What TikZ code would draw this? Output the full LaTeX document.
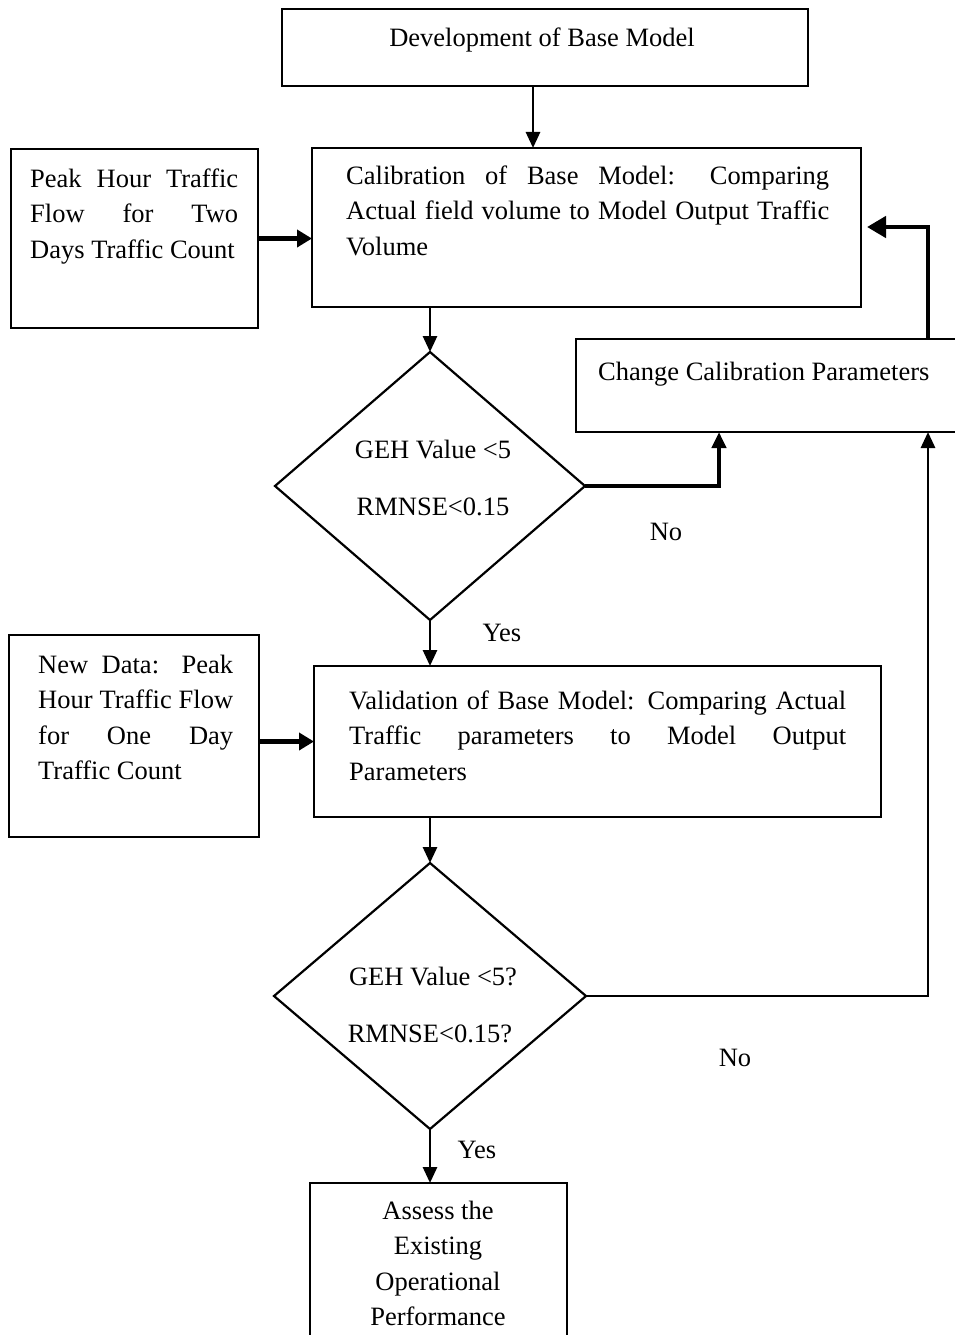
\documentclass[tikz,border=0pt]{standalone}
\usepackage{fontspec}
\setmainfont{Liberation Serif}
\usetikzlibrary{shapes.geometric,arrows.meta}
\newcommand{\jline}[2]{\makebox[#1][s]{#2}}
\begin{document}
\begin{tikzpicture}[x=1pt,y=-1pt,
  every node/.style={font=\fontsize{26.5pt}{35.5pt}\selectfont},
  box/.style={draw,line width=2.2pt,inner sep=0pt,outer sep=0pt,anchor=north west},
  dia/.style={draw,diamond,line width=2.2pt,inner sep=0pt,outer sep=0pt},
  txt/.style={anchor=base west,inner sep=0pt},
  ctxt/.style={anchor=base,inner sep=0pt},
  thinarr/.style={line width=2.8pt,-{Triangle[length=16pt,width=14pt]}},
  noarr/.style={line width=4.5pt,-{Triangle[length=16pt,width=14pt]}},
  peakarr/.style={line width=4.5pt,-{Triangle[length=15pt,width=17pt]}},
  fbarr/.style={line width=4.5pt,-{Triangle[length=19pt,width=21pt]}}
]
\useasboundingbox (0,0) rectangle (955,1335);
\clip (0,0) rectangle (955,1335);

% boxes
\node[box,minimum width=526pt,minimum height=77pt] (dev) at (282,9) {};
\node[box,minimum width=549pt,minimum height=159pt] (cal) at (312,148) {};
\node[box,minimum width=247pt,minimum height=179pt] (peak) at (11,149) {};
\node[box,minimum width=400pt,minimum height=93pt] (chg) at (576,339) {};
\node[box,minimum width=250pt,minimum height=202pt] (newd) at (9,635) {};
\node[box,minimum width=567pt,minimum height=151pt] (val) at (314,666) {};
\node[box,minimum width=257pt,minimum height=175pt] (assess) at (310,1183) {};
\node[dia,minimum width=310pt,minimum height=268pt] (d1) at (430,486) {};
\node[dia,minimum width=312pt,minimum height=266pt] (d2) at (430,996) {};

% texts
\node[ctxt] (devT) at (542,47) {Development of Base Model};
\node[txt] (calT) at (346,184) {\vtop{%
  \hbox{\jline{483pt}{Calibration of Base Model: Comparing}}%
  \hbox{\jline{483pt}{Actual field volume to Model Output Traffic}}%
  \hbox{Volume}}};
\node[txt] (peakT) at (30,187) {\vtop{%
  \hbox{\jline{208pt}{Peak Hour Traffic}}%
  \hbox{\jline{208pt}{Flow for Two}}%
  \hbox{Days Traffic Count}}};
\node[txt] (chgT) at (598,380) {Change Calibration Parameters};
\node[ctxt] (d1a) at (433,458) {GEH Value <5};
\node[ctxt] (d1b) at (433,515) {RMNSE<0.15};
\node[txt] (newdT) at (38,673) {\vtop{%
  \hbox{\jline{195pt}{New Data: Peak}}%
  \hbox{\jline{195pt}{Hour Traffic Flow}}%
  \hbox{\jline{195pt}{for One Day}}%
  \hbox{Traffic Count}}};
\node[txt] (valT) at (349,709) {\vtop{%
  \hbox{\jline{497pt}{Validation of Base Model: Comparing Actual}}%
  \hbox{\jline{497pt}{Traffic parameters to Model Output}}%
  \hbox{Parameters}}};
\node[ctxt] (d2a) at (433,985) {GEH Value <5?};
\node[ctxt] (d2b) at (430,1042) {RMNSE<0.15?};
\node[ctxt] (assessT) at (438,1219) {\vtop{%
  \hbox to 0pt{\hss Assess the\hss}%
  \hbox to 0pt{\hss Existing\hss}%
  \hbox to 0pt{\hss Operational\hss}%
  \hbox to 0pt{\hss Performance\hss}}};

% labels
\node[ctxt] (no1) at (666,540) {No};
\node[ctxt] (yes1) at (502,641) {Yes};
\node[ctxt] (no2) at (735,1066) {No};
\node[ctxt] (yes2) at (477,1158) {Yes};

% helper coordinates
\coordinate (x533) at (533,0);
\coordinate (x719) at (719,0);
\coordinate (x928) at (928,0);
\coordinate (y227) at (0,227);

% connectors
\draw[thinarr] (dev.south -| x533) -- (cal.north -| x533);
\draw[peakarr] (peak.east) -- (cal.west |- peak.east);
\draw[thinarr] (cal.south -| d1.north) -- (d1.north);
\draw[noarr] (d1.east) -| (chg.south -| x719);
\draw[fbarr,shorten >=6pt] (chg.north -| x928) |- (cal.east |- y227);
\draw[thinarr] (d1.south) -- (val.north -| d1.south);
\draw[peakarr] (newd.east |- val.west) -- (val.west);
\draw[thinarr] (val.south -| d2.north) -- (d2.north);
\draw[thinarr] (d2.east) -| (chg.south -| x928);
\draw[thinarr] (d2.south) -- (assess.north -| d2.south);
\end{tikzpicture}
\end{document}
